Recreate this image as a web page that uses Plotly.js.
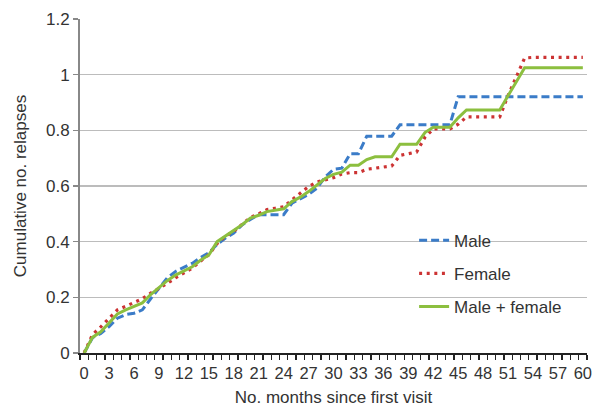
<!DOCTYPE html>
<html>
<head>
<meta charset="utf-8">
<script src="https://cdn.plot.ly/plotly-3.0.1.min.js"></script>
<style>
html,body{margin:0;padding:0;background:#fff;}
#chart{width:595px;height:409px;}
</style>
</head>
<body>
<div id="chart"></div>
<script>
const months = [0,1,2,3,4,5,6,7,8,9,10,11,12,13,14,15,16,17,18,19,20,21,22,23,24,25,26,27,28,29,30,31,32,33,34,35,36,37,38,39,40,41,42,43,44,45,46,47,48,49,50,51,52,53,54,55,56,57,58,59,60];
const tickLabels = ["0","3","6","9","12","15","18","21","24","27","30","33","36","39","42","45","48","51","54","57","60"];
const tickPositions = [0,3,6,9,12,15,18,21,24,27,30,33,36,39,42,45,48,51,54,57,60];

const male = [0,0.055,0.07,0.095,0.125,0.138,0.143,0.155,0.195,0.234,0.27,0.293,0.307,0.322,0.343,0.36,0.39,0.413,0.431,0.46,0.48,
  0.497,0.497,0.497,0.497,0.538,0.553,0.57,0.592,0.632,0.66,0.664,0.716,0.716,0.779,0.779,0.779,0.779,
  0.82,0.82,0.82,0.82,0.82,0.82,0.82,
  0.921,0.921,0.921,0.921,0.921,0.921,0.921,0.921,0.921,0.921,0.921,0.921,0.921,0.921,0.921,0.921];
const female = [0,0.066,0.094,0.125,0.155,0.168,0.18,0.195,0.215,0.232,0.25,0.27,0.287,0.305,0.33,0.353,0.393,0.42,0.437,0.461,0.487,
  0.5,0.515,0.52,0.525,0.55,0.575,0.598,0.614,0.622,0.63,0.643,0.648,0.648,0.66,0.664,0.668,0.672,0.71,0.716,0.722,0.775,
  0.805,0.805,0.805,0.822,0.848,0.848,0.848,0.848,0.848,0.925,0.995,1.06,
  1.062,1.062,1.062,1.062,1.062,1.062,1.062];
const both = [0,0.056,0.076,0.108,0.14,0.155,0.168,0.18,0.21,0.234,0.26,0.28,0.295,0.31,0.333,0.352,0.4,0.42,0.438,0.461,0.485,
  0.495,0.508,0.514,0.518,0.544,0.56,0.58,0.605,0.627,0.642,0.65,0.675,0.675,0.695,0.705,0.705,0.705,0.75,0.75,0.75,0.792,
  0.811,0.811,0.811,0.845,0.873,0.873,0.873,0.873,0.873,0.924,0.975,
  1.025,1.025,1.025,1.025,1.025,1.025,1.025,1.025];

const seriesNames = ["Male","Female","Male + female"];
const font = "Liberation Sans, Arial, sans-serif";

const traces = [
  {x: months, y: male, name: seriesNames[0], type: "scatter", mode: "lines", legendgroup: "a",
   line: {color: "#3b7cc8", width: 3, dash: "8px,4px"}},
  {x: months, y: female, name: seriesNames[1], type: "scatter", mode: "lines", legendgroup: "b",
   line: {color: "#cc3333", width: 3.2, dash: "3px,4.6px"}},
  {x: months, y: both, name: seriesNames[2], type: "scatter", mode: "lines", legendgroup: "c",
   line: {color: "#8cbf3f", width: 3}}
];

const layout = {
  width: 595, height: 409,
  margin: {l: 80, r: 8, t: 19, b: 56},
  paper_bgcolor: "#fff", plot_bgcolor: "#fff",
  font: {family: font, size: 17, color: "#333"},
  showlegend: true,
  legend: {x: 0.659, y: 0.39, xanchor: "left", yanchor: "top", traceorder: "grouped", tracegroupgap: 8,
           font: {family: font, size: 17, color: "#333"}, bgcolor: "rgba(0,0,0,0)"},
  xaxis: {
    range: [-0.5, 60.5], tickmode: "array", tickvals: tickPositions, ticktext: tickLabels,
    ticks: "outside", ticklen: 5, tickcolor: "rgba(0,0,0,0)",
    minor: {ticks: "outside", tick0: -0.5, dtick: 1, ticklen: 5, tickwidth: 1.3, tickcolor: "#222"},
    showline: true, linecolor: "#222", linewidth: 1.5, showgrid: false, zeroline: false,
    tickfont: {family: font, size: 16.5, color: "#333"},
    title: {text: "No. months since first visit", font: {family: font, size: 17, color: "#333"}, standoff: 10},
    fixedrange: true
  },
  yaxis: {
    range: [0, 1.2], tickmode: "linear", tick0: 0, dtick: 0.2,
    ticks: "outside", ticklen: 5, tickwidth: 1.3, tickcolor: "#888",
    showline: true, linecolor: "#888", linewidth: 2,
    showgrid: true, gridcolor: "#bcbcbc", gridwidth: 1.5, zeroline: false,
    tickfont: {family: font, size: 17, color: "#333"},
    title: {text: "Cumulative no. relapses", font: {family: font, size: 17, color: "#333"}, standoff: 15},
    fixedrange: true
  }
};

Plotly.newPlot("chart", traces, layout, {displayModeBar: false, staticPlot: true});
</script>
</body>
</html>
